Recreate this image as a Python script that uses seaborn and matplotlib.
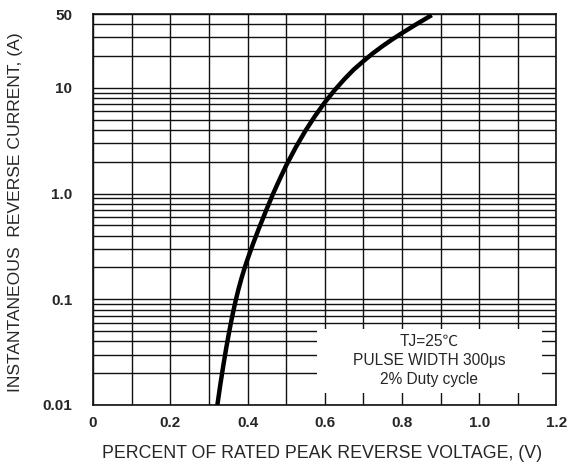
import numpy as np
import pandas as pd
import matplotlib
matplotlib.use("Agg")
import matplotlib.pyplot as plt
import seaborn as sns
from matplotlib.ticker import FixedLocator, NullFormatter, LogLocator
from matplotlib.patches import Rectangle

# ---- data ----
voltage = [0.322, 0.330, 0.338, 0.345, 0.352, 0.360, 0.368, 0.376, 0.384, 0.392,
           0.400, 0.415, 0.430, 0.448, 0.467, 0.483, 0.500, 0.525, 0.550, 0.575,
           0.600, 0.625, 0.650, 0.675, 0.700, 0.725, 0.750, 0.775, 0.800, 0.840,
           0.877]
current = [0.0100, 0.0159, 0.0244, 0.0347, 0.0481, 0.0678, 0.0925, 0.122, 0.156, 0.195,
           0.239, 0.340, 0.473, 0.690, 1.01, 1.36, 1.84, 2.74, 3.93, 5.43,
           7.28, 9.46, 12.0, 14.9, 17.9, 21.3, 24.9, 28.8, 33.0, 40.6,
           48.8]

x_ticks = [0, 0.2, 0.4, 0.6, 0.8, 1.0, 1.2]
x_tick_labels = ["0", "0.2", "0.4", "0.6", "0.8", "1.0", "1.2"]
y_ticks = [0.01, 0.1, 1.0, 10, 50]
y_tick_labels = ["0.01", "0.1", "1.0", "10", "50"]

x_label = "PERCENT OF RATED PEAK REVERSE VOLTAGE, (V)"
y_label = "INSTANTANEOUS  REVERSE CURRENT, (A)"
note_lines = ["TJ=25\u2103", "PULSE WIDTH 300\u03bcs", "2% Duty cycle"]

sns.set_style("white")
plt.rcParams["font.family"] = ["Liberation Sans", "Noto Sans CJK SC", "DejaVu Sans"]

fig = plt.figure(figsize=(5.69, 4.68), dpi=100)
ax = fig.add_axes([93 / 569, 63 / 468, 463.5 / 569, 391 / 468])

df = pd.DataFrame({"v": voltage, "i": current})
sns.lineplot(data=df, x="v", y="i", color="black", lw=3.2, ax=ax, sort=False,
             zorder=3, solid_joinstyle="round", solid_capstyle="butt")

ax.set_yscale("log")
ax.set_xlim(0, 1.2)
ax.set_ylim(0.01, 50)

ax.xaxis.set_major_locator(FixedLocator(x_ticks))
ax.set_xticklabels(x_tick_labels)
ax.xaxis.set_minor_locator(FixedLocator([0.1, 0.3, 0.5, 0.7, 0.9, 1.1]))
ax.xaxis.set_minor_formatter(NullFormatter())

ax.yaxis.set_major_locator(FixedLocator(y_ticks))
ax.set_yticklabels(y_tick_labels)
ax.yaxis.set_minor_locator(LogLocator(base=10, subs=np.arange(2, 10)))
ax.yaxis.set_minor_formatter(NullFormatter())

ax.tick_params(axis="both", which="both", length=0)
ax.tick_params(axis="x", which="major", pad=8, labelsize=11)
ax.tick_params(axis="y", which="major", pad=15, labelsize=11)
for lab in ax.get_xticklabels() + ax.get_yticklabels():
    lab.set_fontweight("bold")

ax.set_axisbelow(True)
ax.grid(True, which="both", axis="both", color="#111111", lw=1.0)

for s in ax.spines.values():
    s.set_visible(True)
    s.set_color("#111111")
    s.set_linewidth(1.2)

ax.set_xlabel(x_label, fontsize=12.8, va="center", ha="center")
ax.xaxis.set_label_coords(0.494, (405 - 454) / 391)
ax.set_ylabel(y_label, fontsize=12.6, va="center", ha="center")
ax.yaxis.set_label_coords((15.5 - 93) / 463.5, (405 - 212.5) / 391)

# white note box
x0 = (317 - 93) / 463.5
x1 = (542 - 93) / 463.5
y0 = (405 - 393) / 391
y1 = (405 - 329) / 391
ax.add_patch(Rectangle((x0, y0), x1 - x0, y1 - y0, transform=ax.transAxes,
                       facecolor="white", edgecolor="none", zorder=2))
cx = (429 - 93) / 463.5
for k, line in enumerate(note_lines):
    yy = (405 - (341 + 19.3 * k)) / 391
    ax.text(cx, yy, line, transform=ax.transAxes, ha="center", va="center",
            fontsize=11.2, zorder=4)

fig.savefig("out.png", dpi=100)
